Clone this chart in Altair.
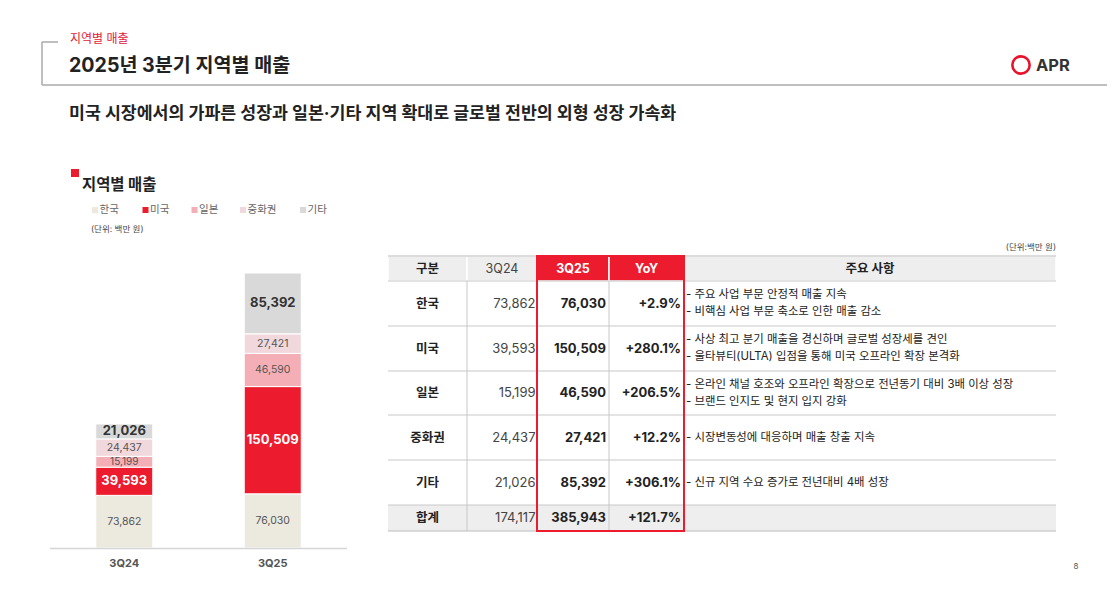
import altair as alt
import pandas as pd

FONT = "Inter, Noto Sans CJK KR"
OFF = 8  # page margin

# ---------------- data ----------------
regions = ["한국", "미국", "일본", "중화권", "기타"]
quarters = ["3Q24", "3Q25"]
sales_3q24 = [73862, 39593, 15199, 24437, 21026]
sales_3q25 = [76030, 150509, 46590, 27421, 85392]
totals = [174117, 385943]
yoy = ["+2.9%", "+280.1%", "+206.5%", "+12.2%", "+306.1%"]
yoy_total = "+121.7%"
notes = [
    ["- 주요 사업 부문 안정적 매출 지속", "- 비핵심 사업 부문 축소로 인한 매출 감소"],
    ["- 사상 최고 분기 매출을 경신하며 글로벌 성장세를 견인", "- 울타뷰티(ULTA) 입점을 통해 미국 오프라인 확장 본격화"],
    ["- 온라인 채널 호조와 오프라인 확장으로 전년동기 대비 3배 이상 성장", "- 브랜드 인지도 및 현지 입지 강화"],
    ["- 시장변동성에 대응하며 매출 창출 지속"],
    ["- 신규 지역 수요 증가로 전년대비 4배 성장"],
]
colors = ["#ECE9DF", "#EC1C2E", "#F4AFB6", "#F1D8DC", "#D9D9D9"]
RED = "#EC1C2E"

# ---------------- helpers (layout in page pixels) ----------------
def text_layer(rows, **kw):
    df = pd.DataFrame(rows, columns=["x", "y", "t"])
    df["x"] = df["x"] - OFF
    df["y"] = df["y"] - OFF
    return alt.Chart(df).mark_text(baseline="middle", font=FONT, **kw).encode(
        x=alt.X("x:Q", scale=None, axis=None),
        y=alt.Y("y:Q", scale=None, axis=None),
        text="t:N",
    )

def rect_layer(rows, **kw):
    df = pd.DataFrame(rows, columns=["x", "x2", "y", "y2", "c"])
    for k in ["x", "x2", "y", "y2"]:
        df[k] = df[k] - OFF
    return alt.Chart(df).mark_rect(**kw).encode(
        x=alt.X("x:Q", scale=None, axis=None), x2="x2:Q",
        y=alt.Y("y:Q", scale=None, axis=None), y2="y2:Q",
        color=alt.Color("c:N", scale=None),
    )

def rule_layer(rows, color, width=1):
    df = pd.DataFrame(rows, columns=["x", "x2", "y", "y2"])
    for k in ["x", "x2", "y", "y2"]:
        df[k] = df[k] - OFF
    return alt.Chart(df).mark_rule(color=color, strokeWidth=width).encode(
        x=alt.X("x:Q", scale=None, axis=None), x2="x2:Q",
        y=alt.Y("y:Q", scale=None, axis=None), y2="y2:Q",
    )

layers = []

# ---------------- header ----------------
layers.append(rule_layer([[42, 58, 42, 42], [42, 42, 42, 85], [42, 1115, 85, 85]], "#AAAAAA", 1.5))
layers.append(text_layer([[70, 39, "지역별 매출"]], fontSize=12, color="#E3173A", align="left"))
layers.append(text_layer([[69, 66, "2025년 3분기 지역별 매출"]], fontSize=19.6, fontWeight="bold", color="#222222", align="left"))
logo_df = pd.DataFrame({"x": [1021 - OFF], "y": [65 - OFF]})
layers.append(alt.Chart(logo_df).mark_point(shape="circle", size=300, filled=False, strokeWidth=2.6, color="#E8132B", opacity=1).encode(
    x=alt.X("x:Q", scale=None, axis=None), y=alt.Y("y:Q", scale=None, axis=None)))
layers.append(text_layer([[1036, 66, "APR"]], fontSize=16.5, fontWeight="bold", color="#333333", align="left"))
layers.append(text_layer([[69, 114, "미국 시장에서의 가파른 성장과 일본·기타 지역 확대로 글로벌 전반의 외형 성장 가속화"]],
                         fontSize=17.3, fontWeight="bold", color="#222222", align="left"))

# ---------------- chart section title & legend ----------------
layers.append(rect_layer([[71, 79, 169, 177, RED]]))
layers.append(text_layer([[82, 185, "지역별 매출"]], fontSize=15.4, fontWeight="bold", color="#222222", align="left"))
leg_sq_x = [92, 142.5, 191.5, 240, 300]
layers.append(rect_layer([[sx, sx + 6, 207, 213, c] for sx, c in zip(leg_sq_x, colors)]))
layers.append(text_layer([[sx + 7.5, 210, r] for sx, r in zip(leg_sq_x, regions)], fontSize=10.5, color="#666666", align="left"))
layers.append(text_layer([[91, 229, "(단위: 백만 원)"]], fontSize=8.5, color="#444444", align="left"))

# ---------------- stacked bars ----------------
rows = []
for q, vals in zip(quarters, [sales_3q24, sales_3q25]):
    for i, (r, v) in enumerate(zip(regions, vals)):
        bold = r in ("미국", "기타")
        rows.append({
            "quarter": q, "region": r, "order": i, "value": v,
            "label": f"{v:,}",
            "bold": bold,
            "fc": "#FFFFFF" if r == "미국" else ("#333333" if bold else "#555555"),
            "fs": 13 if bold else (10 if v < 20000 else 10.5),
        })
bar_df = pd.DataFrame(rows)

xband = alt.Scale(domain=quarters, range=[50 - OFF, 347 - OFF], paddingInner=0.616, paddingOuter=0.308)
yscale = alt.Scale(domain=[0, totals[1]], range=[548 - OFF, 273 - OFF], nice=False, zero=True)

bars = alt.Chart(bar_df).mark_bar(stroke="white", strokeWidth=1).encode(
    x=alt.X("quarter:N", scale=xband, axis=None),
    y=alt.Y("value:Q", stack="zero", scale=yscale, axis=None),
    color=alt.Color("region:N", scale=alt.Scale(domain=regions, range=colors), legend=None),
    order=alt.Order("order:Q"),
)
layers.append(bars)

def bar_labels(bold):
    return alt.Chart(bar_df).transform_stack(
        stack="value", as_=["v0", "v1"], groupby=["quarter"], sort=[alt.SortField("order", "ascending")]
    ).transform_calculate(mid="(datum.v0 + datum.v1) / 2").transform_filter(
        "datum.bold" if bold else "!datum.bold"
    ).mark_text(
        font=FONT, baseline="middle", fontWeight="bold" if bold else "normal"
    ).encode(
        x=alt.X("quarter:N", scale=xband, axis=None),
        y=alt.Y("mid:Q", scale=yscale, axis=None),
        text="label:N",
        color=alt.Color("fc:N", scale=None),
        size=alt.Size("fs:Q", scale=None),
    )

layers.append(bar_labels(False))
layers.append(bar_labels(True))

layers.append(rule_layer([[50, 347, 548.5, 548.5]], "#D5D5D5", 1.5))
q_df = pd.DataFrame({"quarter": quarters})
layers.append(alt.Chart(q_df).mark_text(font=FONT, fontWeight="bold", fontSize=11, color="#555555", baseline="middle").encode(
    x=alt.X("quarter:N", scale=xband, axis=None),
    y=alt.value(564 - OFF),
    text="quarter:N",
))

# ---------------- table ----------------
cols = [388, 467, 537, 609, 684, 1056]
rows_y = [256, 281, 326, 371, 415, 460, 505, 531]
cmid = [(a + b) / 2 for a, b in zip(cols[:-1], cols[1:])]
rmid = [(a + b) / 2 for a, b in zip(rows_y[:-1], rows_y[1:])]

layers.append(text_layer([[1056, 247, "(단위:백만 원)"]], fontSize=8.5, color="#444444", align="right"))

header_fill = ["#EEEEEE", "#EEEEEE", RED, RED, "#EEEEEE"]
layers.append(rect_layer([[cols[i], cols[i + 1], rows_y[0], rows_y[1], header_fill[i]] for i in range(5)],
                         stroke="white", strokeWidth=1.5))
layers.append(rect_layer([[cols[0], cols[-1], rows_y[-2], rows_y[-1], "#EEEEEE"]]))

# grid lines
hl = [[cols[0], cols[-1], y, y] for y in rows_y[1:-1]]
layers.append(rule_layer(hl, "#C8C8C8", 1))
layers.append(rule_layer([[cols[0], cols[-1], rows_y[0], rows_y[0]], [cols[0], cols[-1], rows_y[-1], rows_y[-1]]], "#BBBBBB", 1.2))
layers.append(rule_layer([[cols[1], cols[1], rows_y[1], rows_y[-1]], [cols[3], cols[3], rows_y[1], rows_y[-1]]], "#C8C8C8", 1))

# header texts
layers.append(text_layer([[cmid[0], rmid[0], "구분"], [cmid[4], rmid[0], "주요 사항"]], fontSize=12.5, fontWeight="bold", color="#222222"))
layers.append(text_layer([[cmid[1], rmid[0], quarters[0]]], fontSize=12.5, color="#444444"))
layers.append(text_layer([[cmid[2], rmid[0], quarters[1]], [cmid[3], rmid[0], "YoY"]], fontSize=12.5, fontWeight="bold", color="#FFFFFF"))

# body texts
labels = regions + ["합계"]
v24 = [f"{v:,}" for v in sales_3q24] + [f"{totals[0]:,}"]
v25 = [f"{v:,}" for v in sales_3q25] + [f"{totals[1]:,}"]
yy = yoy + [yoy_total]
body_mid = rmid[1:]
layers.append(text_layer([[cmid[0], y, t] for y, t in zip(body_mid, labels)], fontSize=12.5, fontWeight="bold", color="#222222"))
layers.append(text_layer([[cols[2] - 1.5, y, t] for y, t in zip(body_mid, v24)], fontSize=13, color="#444444", align="right"))
layers.append(text_layer([[cols[3] - 3, y, t] for y, t in zip(body_mid, v25)], fontSize=13, fontWeight="bold", color="#222222", align="right"))
layers.append(text_layer([[cols[4] - 3, y, t] for y, t in zip(body_mid, yy)], fontSize=13, fontWeight="bold", color="#222222", align="right"))

note_rows = []
for y, lines in zip(body_mid, notes):
    if len(lines) == 1:
        note_rows.append([686, y, lines[0]])
    else:
        note_rows.append([686, y - 8.5, lines[0]])
        note_rows.append([686, y + 8.5, lines[1]])
layers.append(text_layer(note_rows, fontSize=11.4, color="#222222", align="left"))

# red highlight border
border = pd.DataFrame({"x": [cols[2] - OFF], "x2": [cols[4] - OFF], "y": [rows_y[0] - OFF], "y2": [rows_y[-1] - OFF]})
layers.append(alt.Chart(border).mark_rect(fill=None, fillOpacity=0, stroke=RED, strokeWidth=2).encode(
    x=alt.X("x:Q", scale=None, axis=None), x2="x2:Q",
    y=alt.Y("y:Q", scale=None, axis=None), y2="y2:Q"))

# page number
layers.append(text_layer([[1076, 567, "8"]], fontSize=8, color="#555555"))

chart = alt.layer(*layers).resolve_scale(
    x="independent", y="independent", color="independent", size="independent"
).properties(
    width=1099, height=598, background="white", padding=0, autosize="none"
).configure_view(stroke=None)

chart.save("out.html", embed_options={"renderer": "svg", "actions": False})
